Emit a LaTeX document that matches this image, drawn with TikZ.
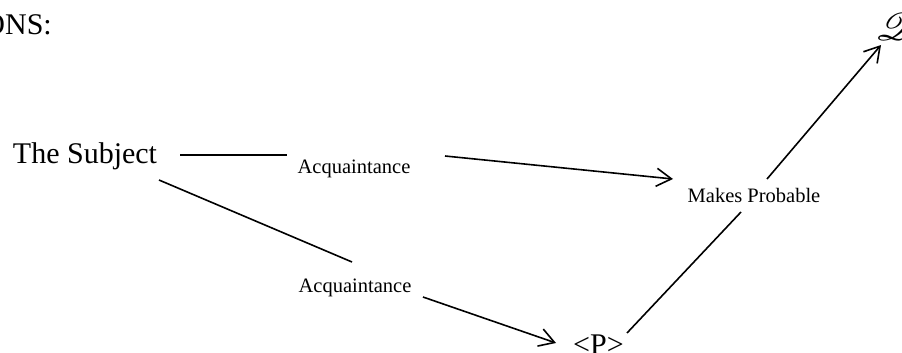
\documentclass[tikz,border=0pt]{standalone}
\usepackage{fontspec}
\usepackage{mathrsfs}
\setmainfont{Liberation Serif}
\usetikzlibrary{arrows.meta}

\tikzset{
  big/.style={inner sep=0pt, font=\fontsize{30}{36}\selectfont},
  small/.style={inner sep=0pt, font=\fontsize{20.5}{24}\selectfont},
  script/.style={inner sep=0pt, font=\fontsize{24.88}{30}\selectfont},
  link/.style={line width=1.6pt},
  arrowlink/.style={line width=1.6pt, -{Straight Barb[length=15pt,width=18pt,line width=1.6pt]}}
}

\begin{document}
\begin{tikzpicture}[x=1pt, y=-1pt]
  \useasboundingbox (0,0) rectangle (902,353);

  % labels
  \node[big, anchor=base east] (head) at (52,35) {ONS:};
  \node[big, anchor=base] (subj) at (85,163) {The Subject};
  \node[small, anchor=base] (acqa) at (354,173) {Acquaintance};
  \node[small, anchor=base] (acqb) at (355,292) {Acquaintance};
  \node[small, anchor=base] (mp) at (754,202) {Makes Probable};
  \node[big, anchor=base] (prop) at (598.5,354) {<P>};
  \node[script, anchor=base west] (q) at (876,41) {\scalebox{1.55}{$\mathscr{Q}$}};

  % upper route
  \draw[link] ([xshift=95pt, yshift=8pt]subj.base) -- ([xshift=-67pt, yshift=18pt]acqa.base);
  \draw[arrowlink] ([xshift=91pt, yshift=17pt]acqa.base) -- ([xshift=-81pt, yshift=23pt]mp.base);

  % lower route
  \draw[link] ([xshift=74pt, yshift=-17pt]subj.base) -- ([xshift=-3pt, yshift=30pt]acqb.base);
  \draw[arrowlink] ([xshift=68pt, yshift=-5pt]acqb.base) -- ([xshift=-42.5pt, yshift=11pt]prop.base);

  % to the conclusion
  \draw[link] ([xshift=28.5pt, yshift=21pt]prop.base) -- ([xshift=-13pt, yshift=-10pt]mp.base);
  \draw[arrowlink] ([xshift=13pt, yshift=23pt]mp.base) -- ([xshift=5pt, yshift=-4pt]q.base west);
\end{tikzpicture}
\end{document}
